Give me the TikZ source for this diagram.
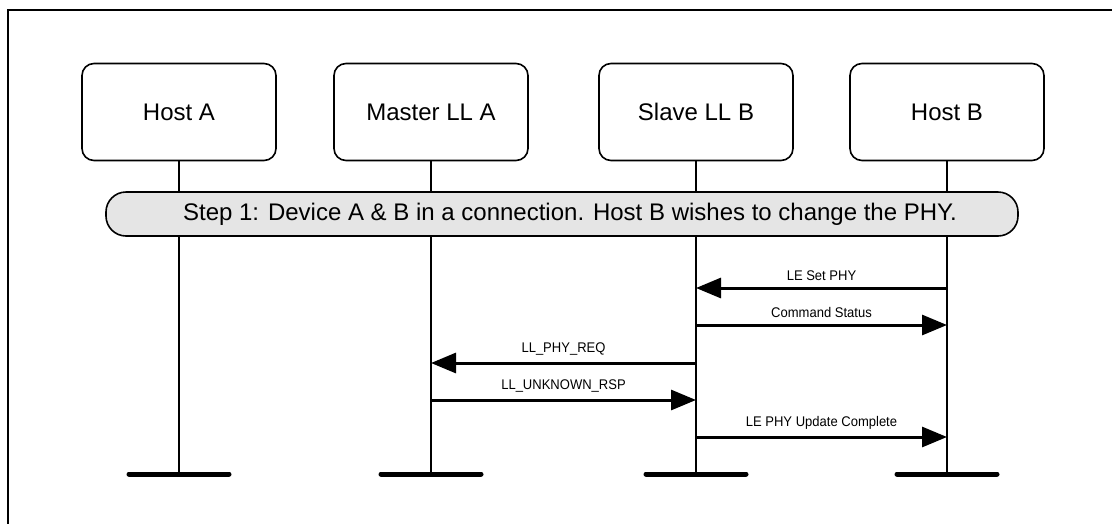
\documentclass[tikz,border=0pt]{standalone}
\usepackage{fontspec}
\setmainfont{Liberation Sans}
\usetikzlibrary{arrows.meta,calc}
\tikzset{
  actor/.style={draw, line width=1.6pt, rounded corners=12pt, minimum width=194pt, minimum height=97pt, font=\fontsize{24}{28}\selectfont, inner sep=0pt},
  life/.style={line width=1.8pt},
  bar/.style={line width=5pt, line cap=round},
  msg/.style={line width=3pt, -{Triangle[length=25pt,width=20pt]}},
  msglabel/.style={font=\fontsize{14}{16}\selectfont, inner sep=0pt, xscale=0.93},
  banner/.style={draw, line width=1.6pt, fill=black!10, rounded corners=20pt, minimum width=912pt, minimum height=44pt, font=\fontsize{24}{28}\selectfont, inner sep=0pt},
  frame/.style={line width=1.6pt}
}
\begin{document}
\begin{tikzpicture}[x=1pt,y=-1pt]
\useasboundingbox (0,0) rectangle (1112,523);
\coordinate (fbl) at (8,530);
\coordinate (ftl) at (8,10);
\coordinate (ftr) at (1120,10);
\draw[frame] (fbl) -- (ftl) -- (ftr);

\node[actor] (ha) at (179,112) {Host A};
\node[actor] (ma) at (431,112) {Master LL A};
\node[actor] (sb) at (696,112) {Slave LL B};
\node[actor] (hb) at (947,112) {Host B};

\foreach \n in {ha,ma,sb,hb}{
  \coordinate (\n-end) at (\n.south |- 0,474);
  \draw[life] (\n.south) -- (\n-end);
  \draw[bar] ($(\n-end)+(-50,0)$) -- ($(\n-end)+(50,0)$);
}

\node[banner] (step) at (562,214) {\hspace*{16pt}Step 1: Device A \& B in a connection. Host B wishes to change the PHY.};

\coordinate (m1s) at (hb.south |- 0,288);
\coordinate (m1e) at (sb.south |- 0,288);
\coordinate (m2s) at (sb.south |- 0,325);
\coordinate (m2e) at (hb.south |- 0,325);
\coordinate (m3s) at (sb.south |- 0,363);
\coordinate (m3e) at (ma.south |- 0,363);
\coordinate (m4s) at (ma.south |- 0,400);
\coordinate (m4e) at (sb.south |- 0,400);
\coordinate (m5s) at (sb.south |- 0,437);
\coordinate (m5e) at (hb.south |- 0,437);

\draw[msg] (m1s) -- (m1e) node[msglabel, midway, above=6pt] (l1) {LE Set PHY};
\draw[msg] (m2s) -- (m2e) node[msglabel, midway, above=6pt] (l2) {Command Status};
\draw[msg] (m3s) -- (m3e) node[msglabel, midway, above=6pt] (l3) {LL\_PHY\_REQ};
\draw[msg] (m4s) -- (m4e) node[msglabel, midway, above=6pt] (l4) {LL\_UNKNOWN\_RSP};
\draw[msg] (m5s) -- (m5e) node[msglabel, midway, above=6pt] (l5) {LE PHY Update Complete};
\end{tikzpicture}
\end{document}
